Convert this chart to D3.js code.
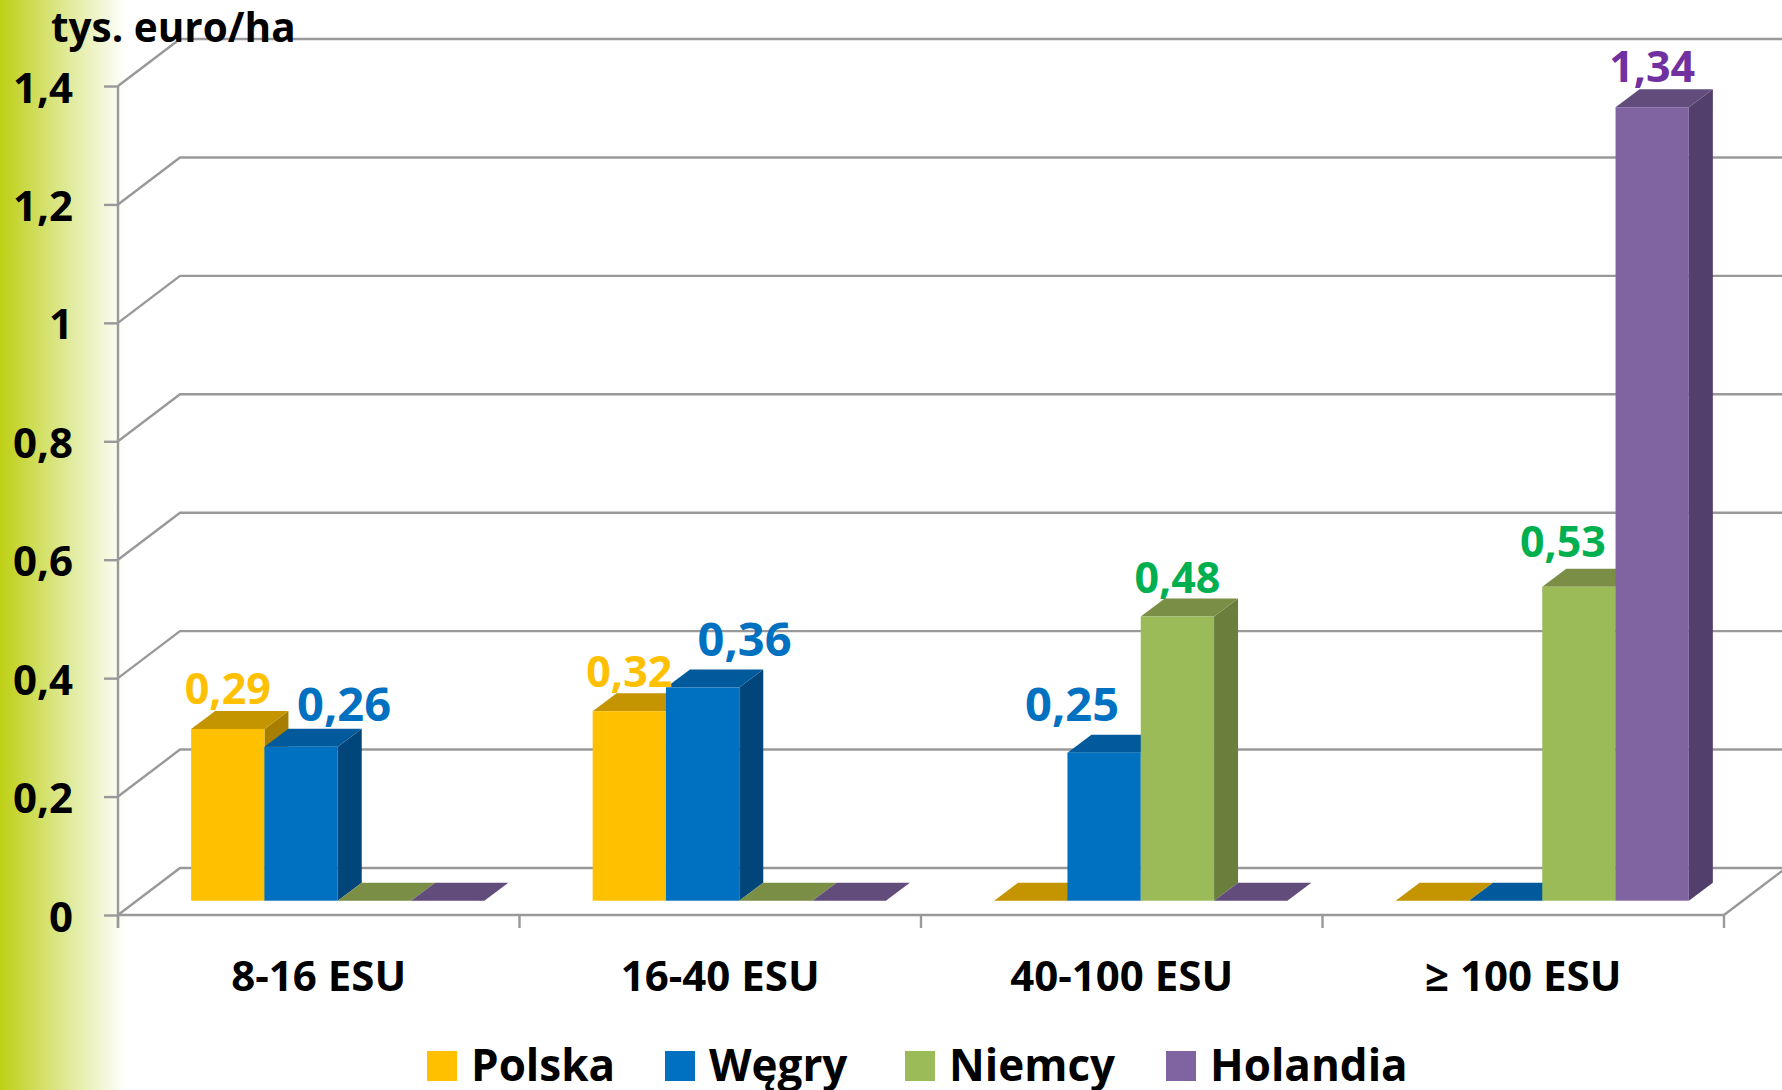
<!DOCTYPE html>
<html>
<head>
<meta charset="utf-8">
<script src="https://cdn.jsdelivr.net/npm/d3@7"></script>
<style>
    html, body { margin: 0; padding: 0; background: #fff; }
    svg { display: block; }
    text { font-family: "Open Sans", Carlito, sans-serif; font-weight: 700; }
</style>
</head>
<body>
<svg id="chart" width="1782" height="1090"></svg>
<script>
const categories = ["8-16 ESU", "16-40 ESU", "40-100 ESU", "≥ 100 ESU"];
const seriesNames = ["Polska", "Węgry", "Niemcy", "Holandia"];
const polska = [0.29, 0.32, 0, 0];
const wegry = [0.26, 0.36, 0.25, 0];
const niemcy = [0, 0, 0.48, 0.53];
const holandia = [0, 0, 0, 1.34];
const yTicks = [0, 0.2, 0.4, 0.6, 0.8, 1, 1.2, 1.4];
const yTitle = "tys. euro/ha";

// kolory: przod, gora, bok, etykieta
const faceColors = ["#ffc000", "#0070c0", "#9bbb59", "#8064a2"];
const topColors = ["#c49500", "#005a9c", "#7a8f45", "#624c7c"];
const sideColors = ["#a67e00", "#00467a", "#6b7f3d", "#533f6b"];
const labelColors = ["#ffc000", "#0070c0", "#00b050", "#7030a0"];
const labelSizes = [43, 47, 43, 43];

// przesuniecia etykiet wzgledem slupka [dx, dy], klucz: seria-kategoria
const labelNudge = {
    "0-0": [0, -7], "1-0": [43, -8],
    "0-1": [0, -6], "1-1": [42, -14],
    "1-2": [-32, -14], "2-2": [0, -5],
    "2-3": [-16, -12], "3-3": [0, -7]
};
const legendX = [427, 665, 905, 1166];

const svg = d3.select("#chart");
const allSeries = [polska, wegry, niemcy, holandia];

const frontLeft = 118, frontRight = 1724;
const wallDx = 62, wallDy = -47;      // przesuniecie tylnej sciany
const barDx = 24, barDy = -18;        // glebokosc slupka
const inDx = 19, inDy = -14.3;        // slupek odsuniety od przedniej krawedzi podlogi

const y = d3.scaleLinear().domain([0, 1.4]).range([915, 86]);
const x0 = d3.scaleBand().domain(categories).range([frontLeft, frontRight]);
const barW = 73.3;
const x1 = d3.scaleBand().domain(seriesNames)
    .range([0, barW * seriesNames.length]);
const groupPad = (x0.bandwidth() - x1.range()[1]) / 2;

const fmt = d3.format(".2f");
const comma = s => String(s).replace(".", ",");

//tlo: zielony pasek po lewej
const defs = svg.append("defs");
const grad = defs.append("linearGradient").attr("id", "leftFade");
grad.append("stop").attr("offset", "0%").attr("stop-color", "#bdd012");
grad.append("stop").attr("offset", "7%").attr("stop-color", "#c2d327");
grad.append("stop").attr("offset", "50%").attr("stop-color", "#dde88f");
grad.append("stop").attr("offset", "100%").attr("stop-color", "#ffffff");
svg.append("rect").attr("width", 126).attr("height", 1090).attr("fill", "url(#leftFade)");

//linie siatki
const gridColor = "#999999";
const grid = svg.append("g").attr("fill", "none").attr("stroke", gridColor).attr("stroke-width", 2.4);
grid.selectAll("path").data(yTicks).enter().append("path")
    .attr("d", d => {
        const p = d3.path();
        p.moveTo(frontLeft, y(d));
        p.lineTo(frontLeft + wallDx, y(d) + wallDy);
        p.lineTo(1790, y(d) + wallDy);
        return p.toString();
    });
// przednia krawedz podlogi
const floor = d3.path();
floor.moveTo(frontLeft, y(0));
floor.lineTo(frontRight, y(0));
floor.lineTo(frontRight + wallDx, y(0) + wallDy);
grid.append("path").attr("d", floor.toString());

//os Y
const yAxis = d3.axisLeft(y).tickValues(yTicks).tickSize(14).tickPadding(31)
    .tickFormat(d => comma(d));
const yG = svg.append("g").attr("transform", `translate(${frontLeft},0)`).call(yAxis);
yG.select(".domain").remove();
yG.selectAll("line").attr("stroke", gridColor).attr("stroke-width", 2.4);
yG.selectAll("text").attr("fill", "#000").style("font-size", "42px").attr("dy", "16px");
svg.append("line").attr("x1", frontLeft).attr("x2", frontLeft)
    .attr("y1", y(1.4)).attr("y2", y(0) + 13)
    .attr("stroke", gridColor).attr("stroke-width", 2.4);

//os X
const xAxis = d3.axisBottom(x0).tickSize(0).tickPadding(0);
const xG = svg.append("g").attr("transform", `translate(0,${y(0)})`).call(xAxis);
xG.select(".domain").remove();
xG.selectAll("text").attr("fill", "#000").style("font-size", "42px")
    .attr("y", 76).attr("dy", 0);
svg.append("g").selectAll("line").data(categories.concat(["end"])).enter().append("line")
    .attr("x1", (d, i) => frontLeft + i * x0.step())
    .attr("x2", (d, i) => frontLeft + i * x0.step())
    .attr("y1", y(0)).attr("y2", y(0) + 13)
    .attr("stroke", gridColor).attr("stroke-width", 2.4);

//slupki, od lewej do prawej zeby nastepny zakrywal bok poprzedniego
const bars = svg.append("g");
function barLeft(si, ci) {
    return x0(categories[ci]) + groupPad + x1(seriesNames[si]) + inDx;
}
function barBase() { return y(0) + inDy; }
function barTop(v) { return barBase() - (y(0) - y(v)); }

categories.forEach((cat, ci) => {
    seriesNames.forEach((name, si) => {
        const v = allSeries[si][ci];
        const l = barLeft(si, ci), r = l + barW, t = barTop(v), b = barBase();
        const poly = pts => pts.map(q => q.join(",")).join(" ");
        bars.append("polygon")
            .attr("points", poly([[r, t], [r + barDx, t + barDy], [r + barDx, b + barDy], [r, b]]))
            .attr("fill", sideColors[si]);
        bars.append("polygon")
            .attr("points", poly([[l, t], [l + barDx, t + barDy], [r + barDx, t + barDy], [r, t]]))
            .attr("fill", topColors[si]);
        if (v > 0) {
            bars.append("rect").attr("x", l).attr("y", t).attr("width", barW).attr("height", b - t)
                .attr("fill", faceColors[si]);
        }
    });
});

//etykiety danych
const labels = svg.append("g");
categories.forEach((cat, ci) => {
    seriesNames.forEach((name, si) => {
        const v = allSeries[si][ci];
        if (!v) return;
        const n = labelNudge[si + "-" + ci];
        labels.append("text")
            .attr("x", barLeft(si, ci) + barW / 2 + n[0])
            .attr("y", barTop(v) + barDy + n[1])
            .attr("text-anchor", "middle")
            .attr("fill", labelColors[si])
            .style("font-size", labelSizes[si] + "px")
            .text(comma(fmt(v)));
    });
});

//tytul osi
svg.append("text").attr("x", 51).attr("y", 42).attr("fill", "#000")
    .style("font-size", "40.5px").text(yTitle);

//legenda
const legend = svg.append("g").selectAll("g").data(seriesNames).enter().append("g")
    .attr("transform", (d, i) => `translate(${legendX[i]},1051)`);
legend.append("rect").attr("width", 30).attr("height", 30)
    .attr("fill", (d, i) => faceColors[i]);
legend.append("text").attr("x", 44).attr("y", 30).attr("fill", "#000")
    .style("font-size", "44px").text(d => d);
</script>
</body>
</html>
